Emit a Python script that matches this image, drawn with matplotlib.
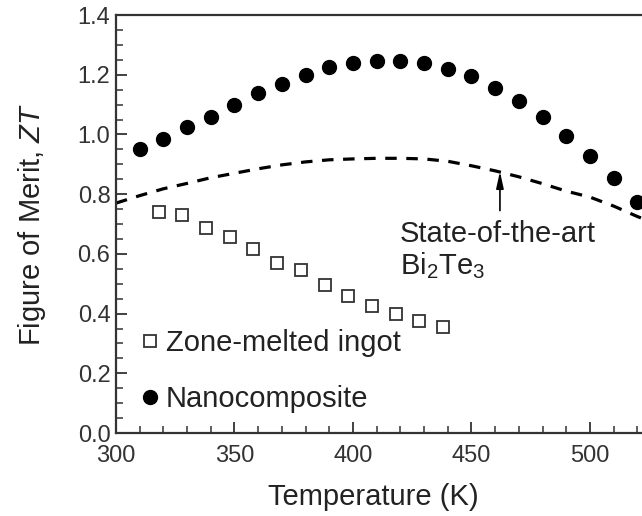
import matplotlib
matplotlib.use('Agg')
import matplotlib.pyplot as plt
from matplotlib.ticker import MultipleLocator

plt.rcParams['font.family'] = ['Liberation Sans', 'DejaVu Sans']
plt.rcParams['mathtext.fontset'] = 'custom'
plt.rcParams['mathtext.rm'] = 'Liberation Sans'
plt.rcParams['mathtext.it'] = 'Liberation Sans:italic'
plt.rcParams['mathtext.default'] = 'regular'

# values
nano_T = [310, 320, 330, 340, 350, 360, 370, 380, 390, 400, 410,
          420, 430, 440, 450, 460, 470, 480, 490, 500, 510, 520]
nano_ZT = [0.95, 0.985, 1.025, 1.06, 1.10, 1.14, 1.17, 1.20, 1.225, 1.24, 1.247,
           1.247, 1.238, 1.22, 1.197, 1.156, 1.112, 1.057, 0.995, 0.928, 0.855, 0.773]

ingot_T = [318, 328, 338, 348, 358, 368, 378, 388, 398, 408, 418, 428, 438]
ingot_ZT = [0.74, 0.73, 0.685, 0.655, 0.615, 0.57, 0.545, 0.495, 0.46,
            0.425, 0.40, 0.375, 0.355]

bi2te3_T = [300, 310, 320, 330, 340, 350, 360, 370, 380, 390, 400, 410,
            420, 430, 440, 450, 460, 470, 480, 490, 500, 510, 520, 525]
bi2te3_ZT = [0.77, 0.795, 0.818, 0.836, 0.855, 0.87, 0.885, 0.898, 0.908, 0.915, 0.918, 0.92,
             0.92, 0.918, 0.91, 0.895, 0.878, 0.858, 0.835, 0.81, 0.79, 0.76, 0.725, 0.71]

fig = plt.figure(figsize=(6.42, 5.16), dpi=100)
ax = fig.add_axes([116 / 642, 83 / 516, 526 / 642, 418 / 516])

ax.plot(bi2te3_T, bi2te3_ZT, color='black', lw=2.3, linestyle=(0, (3.6, 3.0)))
sq, = ax.plot(ingot_T, ingot_ZT, linestyle='none', marker='s', markersize=8.5,
              markerfacecolor='white', markeredgecolor='#333333', markeredgewidth=1.3,
              label='Zone-melted ingot')
dots, = ax.plot(nano_T, nano_ZT, linestyle='none', marker='o', markersize=10,
                color='black', label='Nanocomposite')

ax.annotate('', xy=(462, 0.876), xytext=(462, 0.745),
            arrowprops=dict(arrowstyle='-|>,head_length=1.0,head_width=0.22',
                            color='black', lw=1.2, shrinkA=0, shrinkB=0))
ax.text(419.8, 0.64, 'State-of-the-art', fontsize=21, color='#222222', va='baseline')
ax.text(419.8, 0.532, 'Bi$_2$Te$_3$', fontsize=21, color='#222222', va='baseline')

ax.legend(handles=[sq, dots], loc='lower left', bbox_to_anchor=(0.037, 0.048),
          frameon=False, fontsize=21, handlelength=1.0, handletextpad=0.05,
          labelspacing=0.95, borderpad=0, borderaxespad=0, labelcolor='#222222')

ax.set_xlim(300, 300 + 526 / 2.37)
ax.set_ylim(0, 1.4)
ax.xaxis.set_major_locator(MultipleLocator(50))
ax.xaxis.set_minor_locator(MultipleLocator(10))
ax.yaxis.set_major_locator(MultipleLocator(0.2))
ax.yaxis.set_minor_locator(MultipleLocator(0.05))
ax.yaxis.set_major_formatter(matplotlib.ticker.FormatStrFormatter('%.1f'))

ax.spines['right'].set_visible(False)
for s in ['left', 'bottom', 'top']:
    ax.spines[s].set_linewidth(1.6)
    ax.spines[s].set_color('#333333')

ax.tick_params(which='both', direction='in', top=False, right=False, colors='#333333')
ax.tick_params(which='major', length=8, width=1.3, labelsize=17, labelcolor='#333333')
ax.tick_params(which='minor', length=5, width=1.1)
ax.tick_params(axis='x', which='major', pad=9)
ax.tick_params(axis='y', which='major', pad=4)

ax.set_xlabel('Temperature (K)', fontsize=21, color='#222222')
ax.set_ylabel(r'Figure of Merit, $\mathit{ZT}$', fontsize=21, color='#222222')
ax.xaxis.set_label_coords((373 - 116) / 526, -(497 - 433) / 418)
ax.yaxis.set_label_coords(-(116 - 32) / 526, 0.5)
ax.xaxis.label.set_va('center')
ax.yaxis.label.set_va('center')

fig.savefig('out.png', dpi=100)
